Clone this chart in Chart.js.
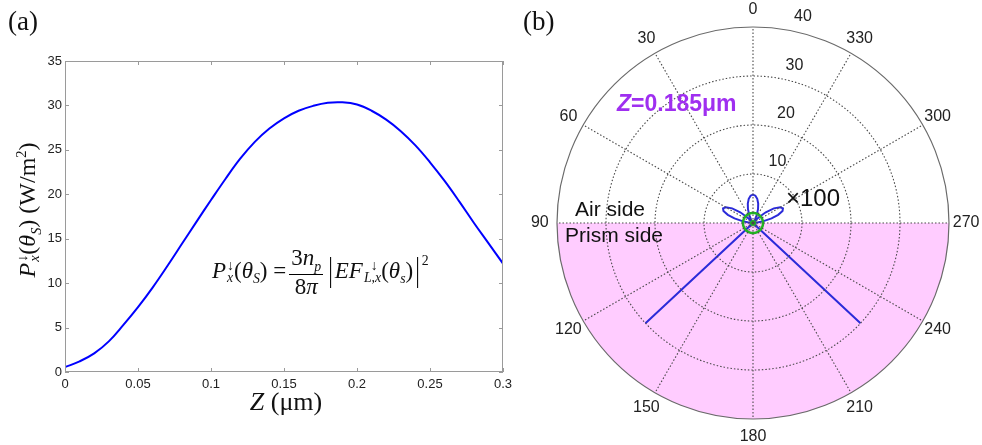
<!DOCTYPE html>
<html>
<head>
<meta charset="utf-8">
<script src="https://cdn.jsdelivr.net/npm/chart.js@4.4.1/dist/chart.umd.min.js"></script>
<style>
body { margin: 0; background: #fff; width: 982px; height: 445px; overflow: hidden; position: relative; font-family: "Liberation Sans", Arial, sans-serif; }
#lineChart { position: absolute; left: 0; top: 0; }
#polarChart { position: absolute; left: 520px; top: 0; }
.lbl { position: absolute; white-space: nowrap; color: #111; }
.serif { font-family: "Liberation Serif", "Times New Roman", serif; }
.ss { display: inline-flex; flex-direction: column; font-size: 0.6em; line-height: 0.85; vertical-align: 0.55em; margin-left: 1px; }
.frac { display: inline-flex; flex-direction: column; align-items: center; vertical-align: middle; line-height: 1.05; margin: 0 3px; }
.frac > span:first-child { border-bottom: 1px solid #000; padding: 0 2px; }
sub, sup { font-size: 0.6em; }
.abs { display: inline-block; transform: scaleY(1.45); margin: 0 2px; }
</style>
</head>
<body>
<canvas id="lineChart" width="520" height="445"></canvas>
<canvas id="polarChart" width="462" height="445"></canvas>

<div class="lbl serif" style="left:8px;top:6px;font-size:27px">(a)</div>
<div class="lbl serif" style="left:523px;top:6px;font-size:27px">(b)</div>

<!-- left panel titles -->
<div class="lbl serif" style="left:29px;top:210px;font-size:24px;transform:translate(-50%,-50%) rotate(-90deg)">
  <i>P</i><span class="ss"><span>&darr;</span><span><i>x</i></span></span>(<i>&theta;</i><sub><i>S</i></sub>) (W/m<sup>2</sup>)
</div>
<div class="lbl serif" style="left:286px;top:402px;font-size:26px;transform:translate(-50%,-50%)"><i>Z</i> (&mu;m)</div>
<div class="lbl serif" style="left:212px;top:246px;font-size:23px">
  <i>P</i><span class="ss"><span>&darr;</span><span><i>x</i></span></span>(<i>&theta;</i><sub><i>S</i></sub>) =<span class="frac"><span>3<i>n</i><sub><i>p</i></sub></span><span>8<i>&pi;</i></span></span><span class="abs">|</span><i>EF</i><span class="ss"><span>&nbsp;&nbsp;&darr;</span><span><i>L</i>,<i>x</i></span></span>(<i>&theta;</i><sub><i>s</i></sub>)<span class="abs">|</span><sup style="vertical-align:0.9em">2</sup>
</div>

<!-- right panel annotations -->
<div class="lbl" style="left:617px;top:90px;font-size:23px;font-weight:bold;color:#9f2ff0"><i>Z</i>=0.185&mu;m</div>
<div class="lbl" style="left:575px;top:197px;font-size:21px">Air side</div>
<div class="lbl" style="left:565px;top:223px;font-size:21px">Prism side</div>
<div class="lbl" style="left:786px;top:184px;font-size:24px">&times;100</div>

<script>
// left panel: P vs Z
const zValues = [0, 0.01, 0.02, 0.03, 0.04, 0.05, 0.06, 0.07, 0.08, 0.09, 0.1, 0.11, 0.12, 0.13, 0.14, 0.15,
                 0.16, 0.17, 0.18, 0.19, 0.2, 0.21, 0.22, 0.23, 0.24, 0.25, 0.26, 0.27, 0.28, 0.29, 0.3];
const powerValues = [0.55, 1.2, 2.1, 3.45, 5.3, 7.3, 9.5, 11.9, 14.4, 16.9, 19.35, 21.75, 24.0, 25.9, 27.4, 28.55,
                     29.4, 29.95, 30.3, 30.35, 30.1, 29.4, 28.4, 27.1, 25.5, 23.6, 21.5, 19.2, 16.8, 14.5, 12.2];

// right panel: polar pattern (angle in degrees, counter-clockwise from top)
const angleLabels = [0, 30, 60, 90, 120, 150, 180, 210, 240, 270, 300, 330];
const radialTicks = [10, 20, 30, 40];
const patternAngles = [0, 5, 10, 15, 20, 25, 30, 35, 40, 45, 50, 55, 60, 64, 68, 72, 76, 80, 84, 88, 90,
                       130, 132, 133, 134, 136, 180, 224, 226, 227, 228, 230,
                       270, 272, 276, 280, 284, 288, 292, 296, 300, 305, 310, 315, 320, 325, 330, 335, 340, 345, 350, 355];
const patternValues = [5.8, 5.6, 5.0, 4.1, 3.0, 1.8, 0.8, 0.2, 0.3, 1.6, 3.4, 5.2, 6.4, 6.8, 6.5, 5.4, 3.9, 2.2, 0.9, 0.3, 0,
                       0, 0.2, 30, 0.2, 0, 0, 0, 0.2, 30, 0.2, 0,
                       0, 0.3, 0.9, 2.2, 3.9, 5.4, 6.5, 6.8, 6.4, 5.2, 3.4, 1.6, 0.3, 0.2, 0.8, 1.8, 3.0, 4.1, 5.0, 5.6];
const prismFrom = 90, prismTo = 270, prismRadius = 40;
const greenRadius = 2.05;

// frame + inward ticks on the line chart
const frameBox = {
    id: 'frameBox',
    afterDraw(chart) {
        const { ctx, chartArea: a, scales: { x, y } } = chart;
        ctx.save();
        ctx.strokeStyle = '#9a9a9a';
        ctx.lineWidth = 1;
        ctx.strokeRect(a.left + 0.5, a.top + 0.5, a.width - 1, a.height - 1);
        ctx.beginPath();
        x.ticks.forEach(t => {
            const px = Math.round(x.getPixelForValue(t.value)) + 0.5;
            ctx.moveTo(px, a.bottom); ctx.lineTo(px, a.bottom - 4);
            ctx.moveTo(px, a.top); ctx.lineTo(px, a.top + 4);
        });
        y.ticks.forEach(t => {
            const py = Math.round(y.getPixelForValue(t.value)) + 0.5;
            ctx.moveTo(a.left, py); ctx.lineTo(a.left + 4, py);
            ctx.moveTo(a.right, py); ctx.lineTo(a.right - 4, py);
        });
        ctx.stroke();
        ctx.restore();
    }
};

const tickFont = { family: '"Liberation Sans", Arial, sans-serif', size: 13 };

new Chart(document.getElementById('lineChart'), {
    type: 'line',
    data: {
        datasets: [{
            data: zValues.map((z, i) => ({ x: z, y: powerValues[i] })),
            borderColor: '#0000ff',
            borderWidth: 2,
            pointRadius: 0,
            tension: 0.4
        }]
    },
    options: {
        responsive: false,
        animation: false,
        layout: { padding: { left: 0, right: 17, top: 61, bottom: 53 } },
        plugins: { legend: { display: false }, tooltip: { enabled: false } },
        scales: {
            x: {
                type: 'linear', min: 0, max: 0.3,
                afterFit: (s) => { s.height = 20; },
                grid: { display: false, drawTicks: false },
                border: { display: false },
                ticks: { stepSize: 0.05, padding: 5, color: '#222', font: tickFont, maxRotation: 0,
                         callback: v => String(Math.round(v * 100) / 100) }
            },
            y: {
                min: 0, max: 35,
                afterFit: (s) => { s.width = 65; },
                grid: { display: false, drawTicks: false },
                border: { display: false },
                ticks: { stepSize: 5, padding: 3, color: '#222', font: tickFont }
            }
        }
    },
    plugins: [frameBox]
});

// polar part, drawn on a radar scale with one spoke per degree
const N = 360;
const toIndex = a => (360 - a) % 360;
const spokeNames = Array.from({ length: N }, (_, i) => String((360 - i) % 360));

const patternData = new Array(N).fill(null);
patternAngles.forEach((a, k) => { patternData[toIndex(a)] = patternValues[k]; });

const prismData = spokeNames.map(s => (+s >= prismFrom && +s <= prismTo) ? prismRadius : 0);
const greenData = new Array(N).fill(greenRadius);
const dotData = new Array(N).fill(null);
dotData[0] = 0;

const polarText = {
    id: 'polarText',
    afterDraw(chart) {
        const r = chart.scales.r;
        const ctx = chart.ctx;
        ctx.save();
        ctx.fillStyle = '#222';
        ctx.font = '16px "Liberation Sans", Arial, sans-serif';
        ctx.textAlign = 'center';
        ctx.textBaseline = 'middle';
        angleLabels.forEach(a => {
            const p = r.getPointPositionForValue(toIndex(a), 43.5);
            ctx.fillText(String(a), p.x, p.y);
        });
        ctx.textAlign = 'left';
        ctx.textBaseline = 'bottom';
        radialTicks.forEach(v => {
            const p = r.getPointPositionForValue(toIndex(350), v);
            ctx.fillText(String(v), p.x + 7, p.y - 5);
        });
        ctx.restore();
    }
};

new Chart(document.getElementById('polarChart'), {
    type: 'radar',
    data: {
        labels: spokeNames,
        datasets: [
            { data: dotData, showLine: false, pointRadius: 3, pointBackgroundColor: '#1fb51f', pointBorderWidth: 0 },
            { data: greenData, borderColor: '#22b422', borderWidth: 2.5, pointRadius: 0, fill: false },
            { data: patternData, spanGaps: true, borderColor: '#2b2bd9', borderWidth: 2, pointRadius: 0, fill: false, tension: 0 },
            { data: prismData, borderWidth: 0, backgroundColor: '#ffccff', pointRadius: 0, fill: 'origin' }
        ]
    },
    options: {
        responsive: false,
        animation: false,
        layout: { padding: { left: 37, right: 33, top: 27, bottom: 26 } },
        plugins: { legend: { display: false }, tooltip: { enabled: false } },
        scales: {
            r: {
                min: 0, max: 40, startAngle: 0,
                ticks: { display: false, stepSize: 10 },
                pointLabels: { display: false },
                grid: {
                    circular: true, z: 1,
                    color: c => c.index === 4 ? '#6a6a6a' : '#4a4a4a',
                    lineWidth: c => c.index === 4 ? 1.2 : 1.1
                },
                border: { dash: c => c.index === 4 ? [] : [1.5, 2] },
                angleLines: {
                    color: c => c.index % 30 === 0 ? '#4a4a4a' : null,
                    lineWidth: 1.1,
                    borderDash: [1.5, 2]
                }
            }
        }
    },
    plugins: [polarText]
});
</script>
</body>
</html>
